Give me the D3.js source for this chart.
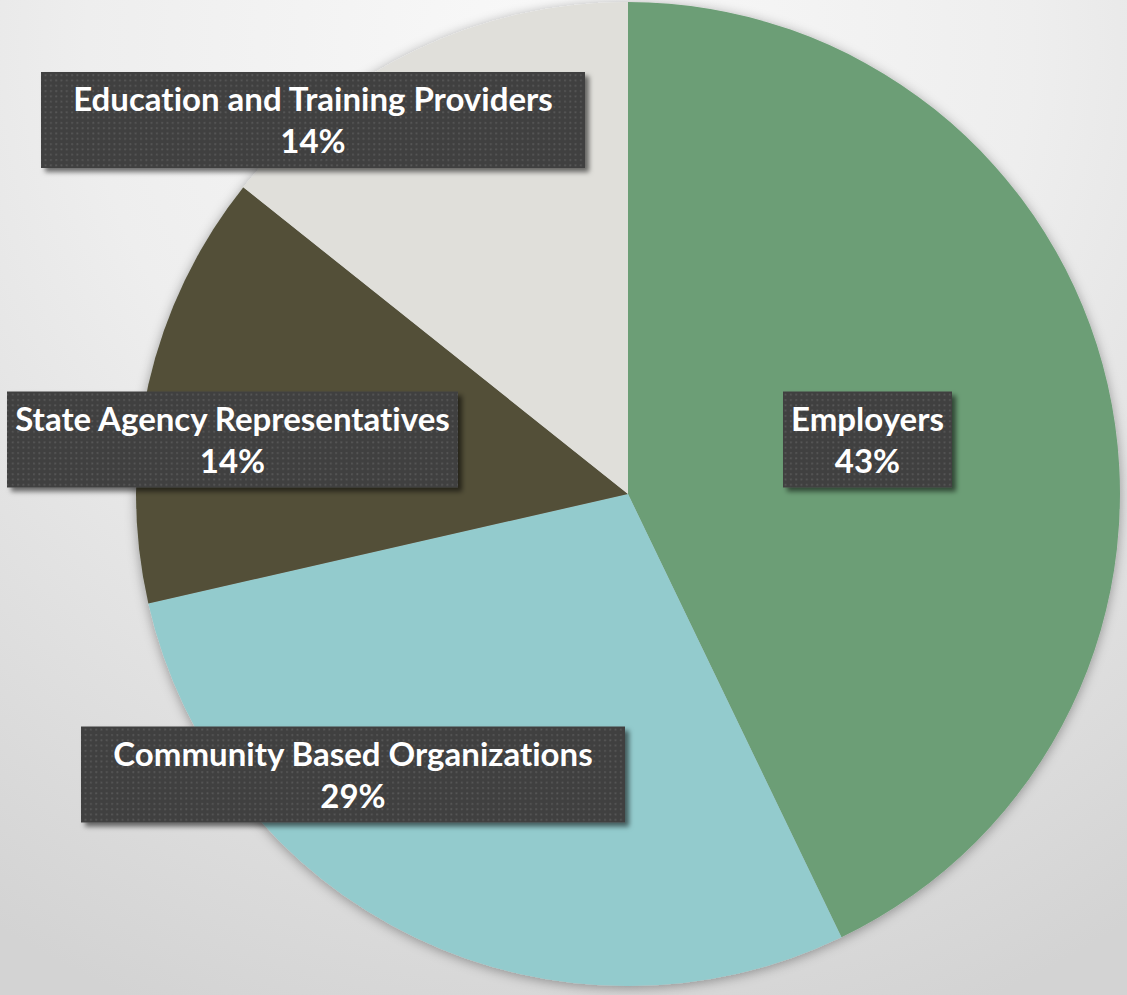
<!DOCTYPE html>
<html>
<head>
<meta charset="utf-8">
<script src="https://cdn.jsdelivr.net/npm/d3@7"></script>
<style>
  html, body { margin: 0; padding: 0; }
  body { width: 1127px; height: 995px; overflow: hidden; }
  svg { display: block; }
</style>
</head>
<body>
<svg id="chart" width="1127" height="995"></svg>
<script>
// Board membership by sector (member counts)
const categories = ["Employers", "Community Based Organizations", "State Agency Representatives", "Education and Training Providers"];
const memberCounts = [3, 2, 1, 1];
const sliceColors = ["#6c9e76", "#93cbcd", "#525039", "#e0dfda"];

// Label box placement: centre point and box width for each category
const labelLayout = [
  { cx: 867.5, cy: 439.5, w: 169 },
  { cx: 353,   cy: 774.5, w: 544 },
  { cx: 232.5, cy: 439.5, w: 451 },
  { cx: 313,   cy: 120,   w: 544 }
];

const W = 1127, H = 995;
const cx = 628, cy = 494, R = 492;

const svg = d3.select("#chart");
const defs = svg.append("defs");

// Soft grey backdrop, lighter toward the top
const bg = defs.append("radialGradient")
  .attr("id", "bgGrad")
  .attr("gradientUnits", "userSpaceOnUse")
  .attr("cx", 560).attr("cy", 40).attr("r", 1050);
bg.append("stop").attr("offset", "0%").attr("stop-color", "#f9f9f9");
bg.append("stop").attr("offset", "45%").attr("stop-color", "#eeeeee");
bg.append("stop").attr("offset", "100%").attr("stop-color", "#d3d3d3");

// Glow/shadow behind the pie
const pieShadow = defs.append("filter").attr("id", "pieShadow")
  .attr("x", "-10%").attr("y", "-10%").attr("width", "120%").attr("height", "120%");
pieShadow.append("feDropShadow")
  .attr("dx", 0).attr("dy", 2).attr("stdDeviation", 6)
  .attr("flood-color", "#000").attr("flood-opacity", 0.35);

// Shadow under label boxes
const boxShadow = defs.append("filter").attr("id", "boxShadow")
  .attr("x", "-10%").attr("y", "-20%").attr("width", "125%").attr("height", "150%");
boxShadow.append("feDropShadow")
  .attr("dx", 4).attr("dy", 4).attr("stdDeviation", 2.5)
  .attr("flood-color", "#000").attr("flood-opacity", 0.55);

// Dotted texture for label boxes
const dots = defs.append("pattern").attr("id", "dots")
  .attr("patternUnits", "userSpaceOnUse")
  .attr("width", 5.3).attr("height", 5.3);
dots.append("rect").attr("width", 5.3).attr("height", 5.3).attr("fill", "#404040");
dots.append("rect").attr("x", 2).attr("y", 2).attr("width", 1.8).attr("height", 1.8).attr("fill", "#585858");

svg.append("rect").attr("width", W).attr("height", H).attr("fill", "url(#bgGrad)");

const data = categories.map((c, i) => ({ name: c, value: memberCounts[i], color: sliceColors[i] }));
const total = d3.sum(memberCounts);

const pie = d3.pie().sort(null).value(d => d.value);
const arc = d3.arc().innerRadius(0).outerRadius(R);
const arcs = pie(data);

const pieG = svg.append("g")
  .attr("transform", `translate(${cx},${cy})`)
  .attr("filter", "url(#pieShadow)");

pieG.selectAll("path")
  .data(arcs)
  .join("path")
  .attr("d", arc)
  .attr("fill", d => d.data.color);

// Data labels: category name and share
const fmt = v => Math.round(v / total * 100) + "%";
const boxH = 96;

const labels = svg.append("g").selectAll("g")
  .data(arcs)
  .join("g")
  .attr("transform", (d, i) => `translate(${labelLayout[i].cx},${labelLayout[i].cy})`);

labels.append("rect")
  .attr("x", (d, i) => -labelLayout[i].w / 2)
  .attr("y", -boxH / 2)
  .attr("width", (d, i) => labelLayout[i].w)
  .attr("height", boxH)
  .attr("fill", "url(#dots)")
  .attr("filter", "url(#boxShadow)");

const txt = labels.append("text")
  .attr("text-anchor", "middle")
  .attr("fill", "#ffffff")
  .style("font-family", "Lato, 'Open Sans', sans-serif")
  .style("font-weight", "bold")
  .style("font-size", "33px")
  .style("font-variant-ligatures", "none")
  .style("font-feature-settings", "'liga' 0, 'dlig' 0");

txt.append("tspan").attr("x", 0).attr("y", -9).text(d => d.data.name);
txt.append("tspan").attr("x", 0).attr("y", 33).text(d => fmt(d.data.value));
</script>
</body>
</html>
